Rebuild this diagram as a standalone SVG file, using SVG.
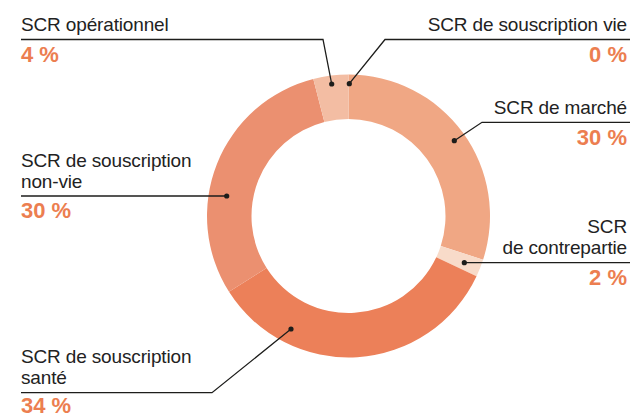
<svg xmlns="http://www.w3.org/2000/svg" width="630" height="416" viewBox="0 0 630 416">
<style>
.lbl{font-family:"Liberation Sans",Arial,sans-serif;font-size:19px;fill:#222;letter-spacing:-0.15px}
.pct{font-family:"Liberation Sans",Arial,sans-serif;font-size:22px;font-weight:bold;fill:#EC7E50}
.end{text-anchor:end}
.lead{fill:none;stroke:#1d1d1b;stroke-width:1.3}
.dot{fill:#1d1d1b}
</style>
<rect width="630" height="416" fill="#fff"/>
<g id="donut">
<path id="seg-marche" fill="#F0A784" d="M348.5,74.5 A141.5,141.5 0 0 1 483.08,259.73 L440.75,245.97 A97,97 0 0 0 348.5,119 Z"/>
<path id="seg-contrepartie" fill="#F8DBC9" d="M483.08,259.73 A141.5,141.5 0 0 1 476.53,276.25 L436.27,257.3 A97,97 0 0 0 440.75,245.97 Z"/>
<path id="seg-sante" fill="#EC8059" d="M476.53,276.25 A141.5,141.5 0 0 1 229.03,291.82 L266.6,267.98 A97,97 0 0 0 436.27,257.3 Z"/>
<path id="seg-nonvie" fill="#EB9070" d="M229.03,291.82 A141.5,141.5 0 0 1 313.31,78.95 L324.38,122.05 A97,97 0 0 0 266.6,267.98 Z"/>
<path id="seg-operationnel" fill="#F3BDA3" d="M313.31,78.95 A141.5,141.5 0 0 1 348.5,74.5 L348.5,119 A97,97 0 0 0 324.38,122.05 Z"/>
</g>
<g id="connectors">
<polyline class="lead" points="21,39.5 323,39.5 331.7,84"/>
<polyline class="lead" points="630,39.5 385,39.5 349.3,83.7"/>
<polyline class="lead" points="630,122.3 482,122.3 454.3,140.7"/>
<polyline class="lead" points="21,196 226.7,196"/>
<polyline class="lead" points="464.3,262.7 630,262.7"/>
<polyline class="lead" points="21,392.7 212,392.7 291,329"/>
<circle class="dot" cx="331.7" cy="84" r="2.6"/>
<circle class="dot" cx="349.3" cy="83.7" r="2.6"/>
<circle class="dot" cx="454.3" cy="140.7" r="2.6"/>
<circle class="dot" cx="226.7" cy="196" r="2.6"/>
<circle class="dot" cx="464.3" cy="262.7" r="2.6"/>
<circle class="dot" cx="291" cy="329" r="2.6"/>
</g>
<g id="label-operationnel">
<text class="lbl" x="21" y="31">SCR opérationnel</text>
<text class="pct" x="21" y="61.5">4 %</text>
</g>
<g id="label-vie">
<text class="lbl end" x="627" y="31">SCR de souscription vie</text>
<text class="pct end" x="627" y="61.5">0 %</text>
</g>
<g id="label-marche">
<text class="lbl end" x="627" y="113.5">SCR de marché</text>
<text class="pct end" x="627" y="144.5">30 %</text>
</g>
<g id="label-nonvie">
<text class="lbl" x="21" y="166.5">SCR de souscription</text>
<text class="lbl" x="21" y="187.5">non-vie</text>
<text class="pct" x="21" y="218">30 %</text>
</g>
<g id="label-contrepartie">
<text class="lbl end" x="627" y="233">SCR</text>
<text class="lbl end" x="627" y="254">de contrepartie</text>
<text class="pct end" x="627" y="284.5">2 %</text>
</g>
<g id="label-sante">
<text class="lbl" x="21" y="363">SCR de souscription</text>
<text class="lbl" x="21" y="384">santé</text>
<text class="pct" x="21" y="413">34 %</text>
</g>
</svg>
